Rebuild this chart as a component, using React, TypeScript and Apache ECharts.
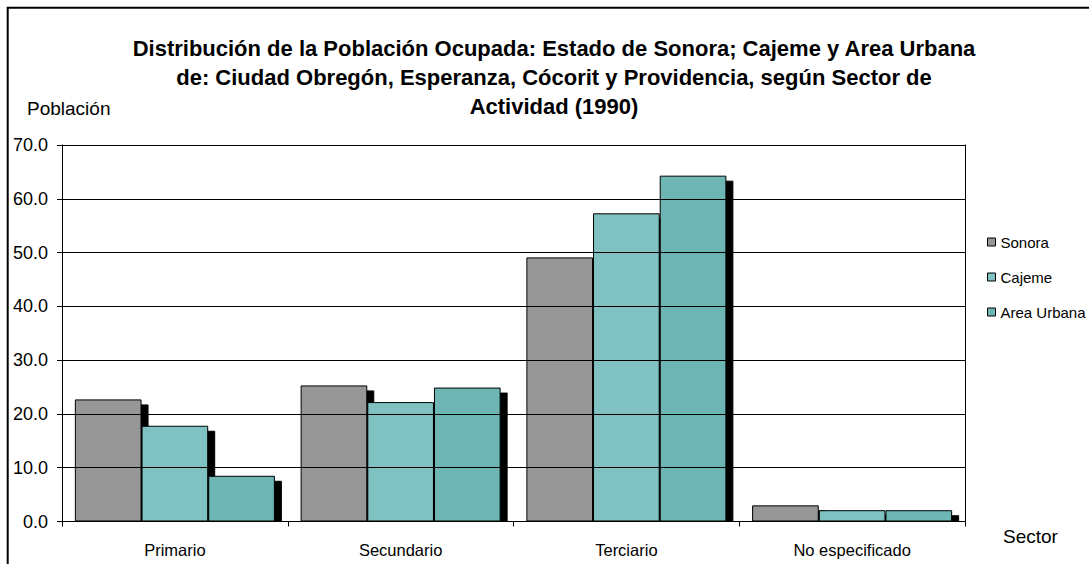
import React, { useEffect, useRef } from "react";
import * as echarts from "echarts";

const categories = ["Primario", "Secundario", "Terciario", "No especificado"];
const seriesNames = ["Sonora", "Cajeme", "Area Urbana"];
const sonora = [22.7, 25.3, 49.1, 3.0];
const cajeme = [17.8, 22.2, 57.3, 2.1];
const areaUrbana = [8.5, 24.9, 64.3, 2.1];
const seriesColors = ["#969696", "#80c2c1", "#6db6b3"];
const yMin = 0;
const yMax = 70;
const yInterval = 10;

const titleText =
  "Distribución de la Población Ocupada: Estado de Sonora; Cajeme y Area Urbana\nde: Ciudad Obregón, Esperanza, Cócorit y Providencia, según Sector de\nActividad (1990)";
const yAxisName = "Población";
const xAxisName = "Sector";

const FONT = "'Liberation Sans', Arial, sans-serif";

export default function App() {
  const ref = useRef<HTMLDivElement>(null);
  useEffect(() => {
    if (!ref.current) return;
    const chart = echarts.init(ref.current, undefined, { renderer: "svg" });
    const values = [sonora, cajeme, areaUrbana];
    chart.setOption({
      animation: false,
      backgroundColor: "#ffffff",
      textStyle: { fontFamily: FONT },
      title: {
        text: titleText,
        left: 549,
        textAlign: "center",
        top: 29,
        textStyle: {
          fontFamily: FONT,
          fontSize: 22,
          fontWeight: "bold",
          color: "#000",
          lineHeight: 29,
        },
      },
      legend: {
        orient: "vertical",
        left: 982,
        top: 229.5,
        itemWidth: 8,
        itemHeight: 8,
        itemGap: 20,
        icon: "rect",
        data: seriesNames,
        itemStyle: {
          borderColor: "#000",
          borderWidth: 1,
          shadowBlur: 0,
          shadowOffsetX: 0,
          shadowOffsetY: 0,
          shadowColor: "transparent",
        },
        textStyle: { fontFamily: FONT, fontSize: 15, color: "#000", lineHeight: 15 },
      },
      grid: { left: 62, top: 145, right: 124, bottom: 42.5 },
      xAxis: {
        type: "category",
        data: categories,
        z: 10,
        axisLine: { lineStyle: { color: "#000", width: 1 } },
        axisTick: { show: true, alignWithLabel: false, length: 5, lineStyle: { color: "#000" } },
        axisLabel: { fontFamily: FONT, fontSize: 16.5, color: "#000", margin: 20 },
        splitLine: { show: false },
      },
      yAxis: [
        {
          type: "value",
          min: yMin,
          max: yMax,
          interval: yInterval,
          z: 10,
          axisLine: { show: true, lineStyle: { color: "#000", width: 1 } },
          axisTick: { show: true, length: 5, lineStyle: { color: "#000" } },
          axisLabel: {
            fontFamily: FONT,
            fontSize: 18,
            color: "#000",
            margin: 14,
            formatter: (v: number) => v.toFixed(1),
          },
          splitLine: { show: true, lineStyle: { color: "#000", width: 1 } },
        },
        {
          type: "value",
          position: "right",
          min: yMin,
          max: yMax,
          interval: yInterval,
          z: 10,
          axisLine: { show: true, lineStyle: { color: "#000", width: 1 } },
          axisTick: { show: false },
          axisLabel: { show: false },
          splitLine: { show: false },
        },
      ],
      series: seriesNames.map((name, i) => ({
        name,
        type: "bar",
        data: values[i],
        barGap: "0%",
        barCategoryGap: "11.4%",
        itemStyle: {
          color: seriesColors[i],
          borderColor: "#000",
          borderWidth: 1,
          shadowColor: "#000",
          shadowBlur: 0,
          shadowOffsetX: 7,
          shadowOffsetY: 5,
        },
        emphasis: { disabled: true },
      })),
      graphic: [
        {
          type: "rect",
          shape: { x: 62, y: 522, width: 925, height: 8 },
          style: { fill: "#ffffff", stroke: "none" },
          silent: true,
          z: 5,
        },
        {
          type: "rect",
          shape: { x: 7.7, y: 7.7, width: 1200, height: 700 },
          style: { fill: "none", stroke: "#000", lineWidth: 2 },
          silent: true,
          z: 100,
        },
        {
          type: "text",
          left: 27,
          top: 99,
          style: { text: yAxisName, font: `19px ${FONT}`, fill: "#000" },
        },
        {
          type: "text",
          left: 1003,
          top: 527,
          style: { text: xAxisName, font: `19px ${FONT}`, fill: "#000" },
        },
      ],
    });
    return () => chart.dispose();
  }, []);
  return (
    <div
      ref={ref}
      style={{ position: "absolute", left: 0, top: 0, width: 1089, height: 564 }}
    />
  );
}
